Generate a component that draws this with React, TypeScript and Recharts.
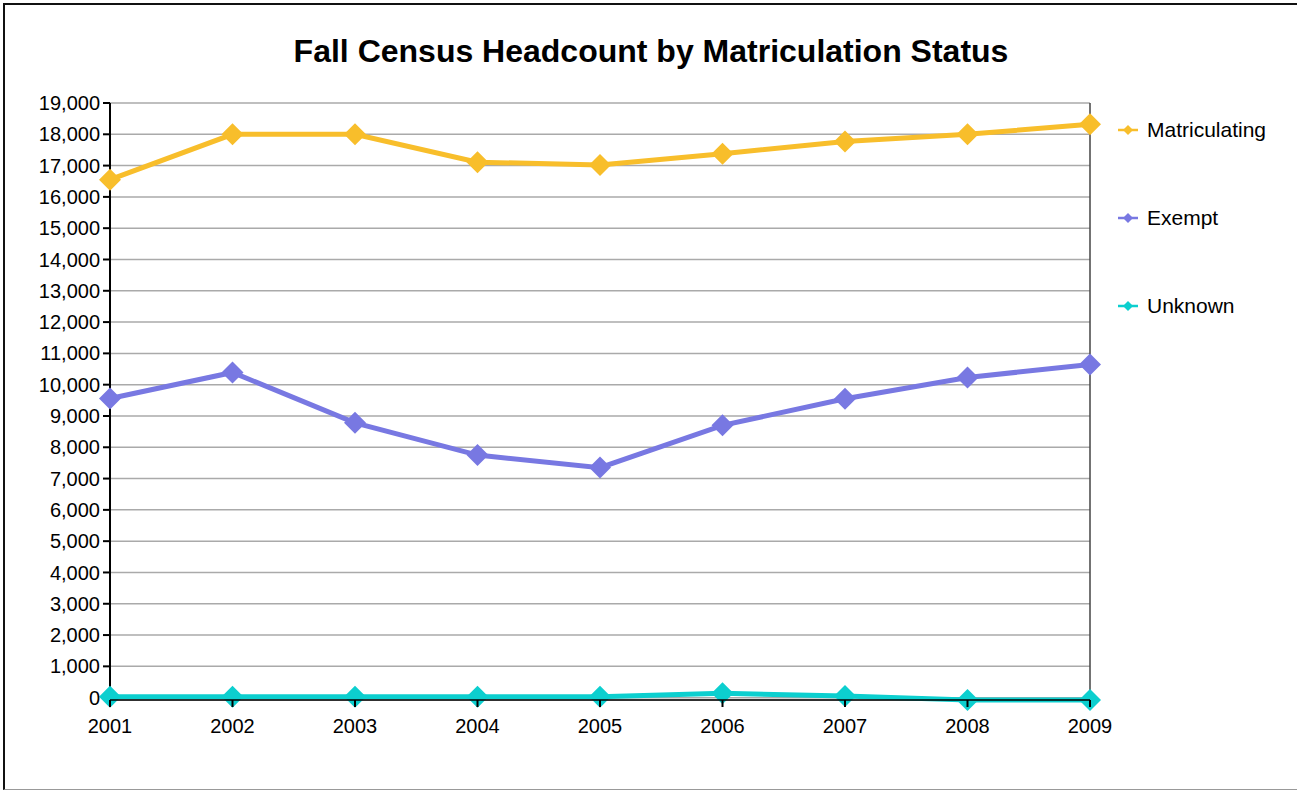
import { LineChart, Line, XAxis, YAxis, CartesianGrid, ReferenceLine } from "recharts";

const years = ["2001", "2002", "2003", "2004", "2005", "2006", "2007", "2008", "2009"];
const matriculating = [16550, 18000, 18000, 17110, 17020, 17380, 17770, 18000, 18320];
const exempt = [9560, 10390, 8780, 7750, 7350, 8700, 9550, 10230, 10645];
const unknown = [30, 30, 30, 30, 30, 140, 55, -75, -75];
const yTicks = [0, 1000, 2000, 3000, 4000, 5000, 6000, 7000, 8000, 9000, 10000, 11000, 12000, 13000, 14000, 15000, 16000, 17000, 18000, 19000];

const seriesInfo = [
  { key: "matriculating", name: "Matriculating", color: "#F8BE2B" },
  { key: "exempt", name: "Exempt", color: "#7878E2" },
  { key: "unknown", name: "Unknown", color: "#0CCFCF" },
];

const data = years.map((year, i) => ({
  year,
  matriculating: matriculating[i],
  exempt: exempt[i],
  unknown: unknown[i],
}));

const FONT = "'Liberation Sans', Arial, sans-serif";

// diamond marker
const Diamond = (props: any) => {
  const { cx, cy, fill } = props;
  if (cx == null || cy == null) return null;
  const r = 11;
  return (
    <polygon
      points={`${cx},${cy - r} ${cx + r},${cy} ${cx},${cy + r} ${cx - r},${cy}`}
      fill={fill}
    />
  );
};

const LegendBox = () => (
  <div style={{ fontFamily: FONT, fontSize: 21, color: "#000" }}>
    {seriesInfo.map((s) => (
      <div key={s.key} style={{ display: "flex", alignItems: "center", height: 88 }}>
        <svg width={22} height={12} style={{ marginRight: 8 }}>
          <line x1={1} y1={6} x2={21} y2={6} stroke={s.color} strokeWidth={2.5} />
          <polygon points="11,1 16,6 11,11 6,6" fill={s.color} />
        </svg>
        <span>{s.name}</span>
      </div>
    ))}
  </div>
);

const App = () => {
  return (
    <div style={{ position: "absolute", left: 0, top: 0, width: 1297, height: 790, background: "#fff", overflow: "hidden" }}>
      <div
        style={{
          position: "absolute",
          left: 3,
          top: 3,
          width: 1300,
          height: 784,
          borderLeft: "2px solid #111",
          borderTop: "2px solid #111",
          borderBottom: "1px solid #999",
        }}
      />
      <div
        style={{
          position: "absolute",
          left: 0,
          top: 33,
          width: 1302,
          textAlign: "center",
          fontFamily: FONT,
          fontWeight: "bold",
          fontSize: 32,
          color: "#000",
        }}
      >
        Fall Census Headcount by Matriculation Status
      </div>
      <div style={{ position: "absolute", left: 0, top: 0 }}>
        <LineChart width={1297} height={790} data={data} margin={{ top: 103, right: 207, bottom: 60, left: 0 }}>
          <CartesianGrid yAxisId="left" vertical={false} stroke="#aaaaaa" strokeWidth={1.5} />
          <ReferenceLine yAxisId="left" x="2009" stroke="#444" strokeWidth={1.5} />
          <YAxis
            yAxisId="left"
            type="number"
            domain={[-75, 19000]}
            ticks={yTicks}
            width={110}
            interval={0}
            tickFormatter={(v) => v.toLocaleString("en-US")}
            tick={{ fill: "#000", fontSize: 20, fontFamily: FONT }}
            tickSize={7}
            tickMargin={3}
            tickLine={{ stroke: "#000", strokeWidth: 2 }}
            axisLine={{ stroke: "#000", strokeWidth: 2 }}
          />
          {seriesInfo.map((s) => (
            <Line
              key={s.key}
              yAxisId="left"
              type="linear"
              dataKey={s.key}
              name={s.name}
              stroke={s.color}
              strokeWidth={5}
              dot={(p: any) => <Diamond key={`${s.key}-${p.index}`} cx={p.cx} cy={p.cy} fill={s.color} />}
              activeDot={false}
              isAnimationActive={false}
            />
          ))}
          <XAxis
            dataKey="year"
            height={30}
            zIndex={1000}
            tick={{ fill: "#000", fontSize: 20, fontFamily: FONT }}
            tickSize={7}
            tickMargin={12}
            tickLine={{ stroke: "#000", strokeWidth: 2 }}
            axisLine={{ stroke: "#000", strokeWidth: 1.5 }}
          />
        </LineChart>
      </div>
      <div style={{ position: "absolute", left: 1117, top: 86 }}>
        <LegendBox />
      </div>
    </div>
  );
};

export default App;
